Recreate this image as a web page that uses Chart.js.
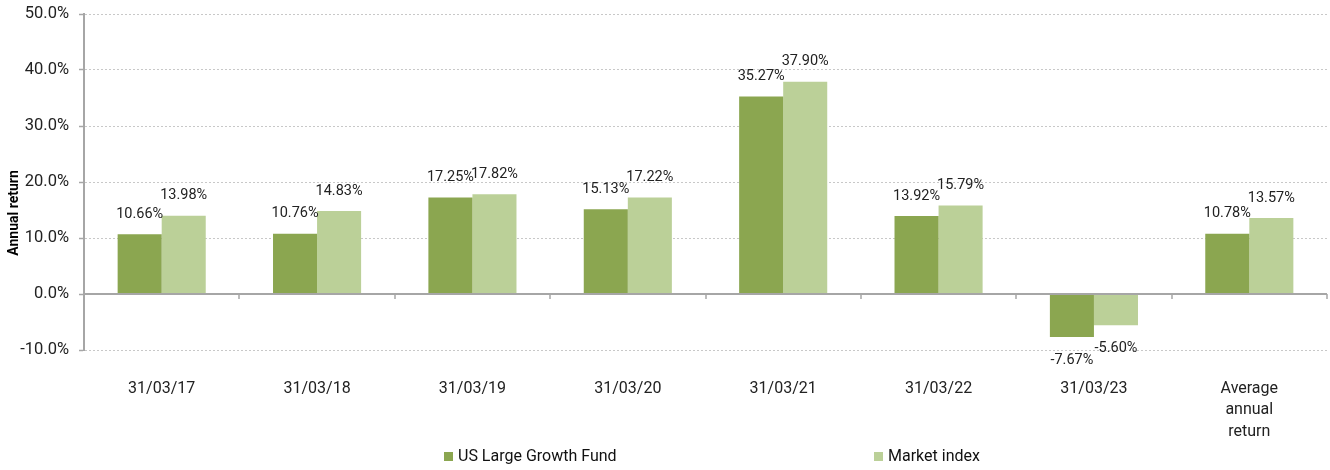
<!DOCTYPE html>
<html>
<head>
<meta charset="utf-8">
<script src="https://cdn.jsdelivr.net/npm/chart.js@4"></script>
<style>
  html, body { margin: 0; padding: 0; background: #fff; }
  #wrap { width: 1330px; height: 470px; }
</style>
</head>
<body>
<div id="wrap"><canvas id="returnsChart"></canvas></div>
<script>
// chart data
const categories = ['31/03/17', '31/03/18', '31/03/19', '31/03/20', '31/03/21', '31/03/22', '31/03/23', ['Average', 'annual', 'return']];
const fundReturns = [10.66, 10.76, 17.25, 15.13, 35.27, 13.92, -7.67, 10.78];
const indexReturns = [13.98, 14.83, 17.82, 17.22, 37.90, 15.79, -5.60, 13.57];
const seriesNames = ['US Large Growth Fund', 'Market index'];
const yTicks = [-10, 0, 10, 20, 30, 40, 50];

const fundColor = '#8ba650';
const indexColor = '#bbd098';
const axisGrey = '#a6a6a6';

// labels above / below each bar
const barLabels = {
    id: 'barLabels',
    afterDatasetsDraw(chart) {
        const ctx = chart.ctx;
        ctx.save();
        ctx.font = '14.5px Roboto';
        ctx.fillStyle = '#222';
        ctx.textAlign = 'center';
        ctx.textBaseline = 'middle';
        chart.data.datasets.forEach((ds, i) => {
            chart.getDatasetMeta(i).data.forEach((bar, j) => {
                const v = ds.data[j];
                const y = v >= 0 ? bar.y - 20 : bar.y + 23;
                ctx.fillText(v.toFixed(2) + '%', bar.x, y);
            });
        });
        ctx.restore();
    }
};

// zero line with category tick marks, y title and legend
const extras = {
    id: 'extras',
    afterDraw(chart) {
        const ctx = chart.ctx;
        const area = chart.chartArea;
        const xs = chart.scales.x;
        const y0 = chart.scales.y.getPixelForValue(0);
        ctx.save();
        ctx.strokeStyle = axisGrey;
        ctx.lineWidth = 2;
        ctx.beginPath();
        ctx.moveTo(area.left, y0);
        ctx.lineTo(area.right, y0);
        ctx.stroke();
        ctx.lineWidth = 1.5;
        for (let i = 0; i <= categories.length; i++) {
            const x = Math.round(xs.getPixelForValue(i - 0.5));
            ctx.beginPath();
            ctx.moveTo(x, y0);
            ctx.lineTo(x, y0 + 5);
            ctx.stroke();
        }

        // y axis title
        ctx.fillStyle = '#000';
        ctx.font = 'bold 14px Roboto';
        ctx.textAlign = 'center';
        ctx.textBaseline = 'middle';
        ctx.translate(14, 213);
        ctx.rotate(-Math.PI / 2);
        ctx.fillText('Annual return', 0, 0);
        ctx.setTransform(1, 0, 0, 1, 0, 0);

        // legend
        const legendX = [444, 874];
        const colors = [fundColor, indexColor];
        ctx.font = '16px Roboto';
        ctx.textAlign = 'left';
        seriesNames.forEach((name, i) => {
            ctx.fillStyle = colors[i];
            ctx.fillRect(legendX[i], 452, 9, 9);
            ctx.fillStyle = '#111';
            ctx.fillText(name, legendX[i] + 14, 457);
        });
        ctx.restore();
    }
};

const ctx = document.getElementById('returnsChart').getContext('2d');
new Chart(ctx, {
    type: 'bar',
    data: {
        labels: categories,
        datasets: [
            { label: seriesNames[0], data: fundReturns, backgroundColor: fundColor },
            { label: seriesNames[1], data: indexReturns, backgroundColor: indexColor }
        ]
    },
    options: {
        responsive: true,
        maintainAspectRatio: false,
        animation: false,
        layout: { padding: { top: 14, right: 3, left: 0, bottom: 0 } },
        datasets: {
            bar: { barPercentage: 1, categoryPercentage: 0.567, borderWidth: 0 }
        },
        plugins: {
            legend: { display: false },
            tooltip: { enabled: false }
        },
        scales: {
            x: {
                grid: { display: false, drawTicks: false },
                border: { display: false },
                ticks: {
                    padding: 28,
                    color: '#222',
                    maxRotation: 0,
                    autoSkip: false,
                    font: { family: 'Roboto', size: 16, lineHeight: 1.35 }
                },
                afterFit(scale) {
                    scale.height = 120;
                    scale.paddingLeft = 0;
                    scale.paddingRight = 0;
                }
            },
            y: {
                min: -10,
                max: 50,
                afterBuildTicks(scale) {
                    scale.ticks = yTicks.map(v => ({ value: v }));
                },
                grid: {
                    color: '#c8c8c8',
                    lineWidth: 1,
                    tickLength: 5,
                    tickColor: axisGrey,
                    tickWidth: 1.5,
                    tickBorderDash: []
                },
                border: {
                    display: true,
                    color: axisGrey,
                    width: 2,
                    dash: [2, 2]
                },
                ticks: {
                    padding: 10,
                    color: '#222',
                    font: { family: 'Roboto', size: 16.5 },
                    callback: v => v.toFixed(1) + '%'
                },
                afterFit(scale) {
                    scale.width = 84;
                    scale.paddingTop = 0;
                    scale.paddingBottom = 0;
                }
            }
        }
    },
    plugins: [barLabels, extras]
});
</script>
</body>
</html>
